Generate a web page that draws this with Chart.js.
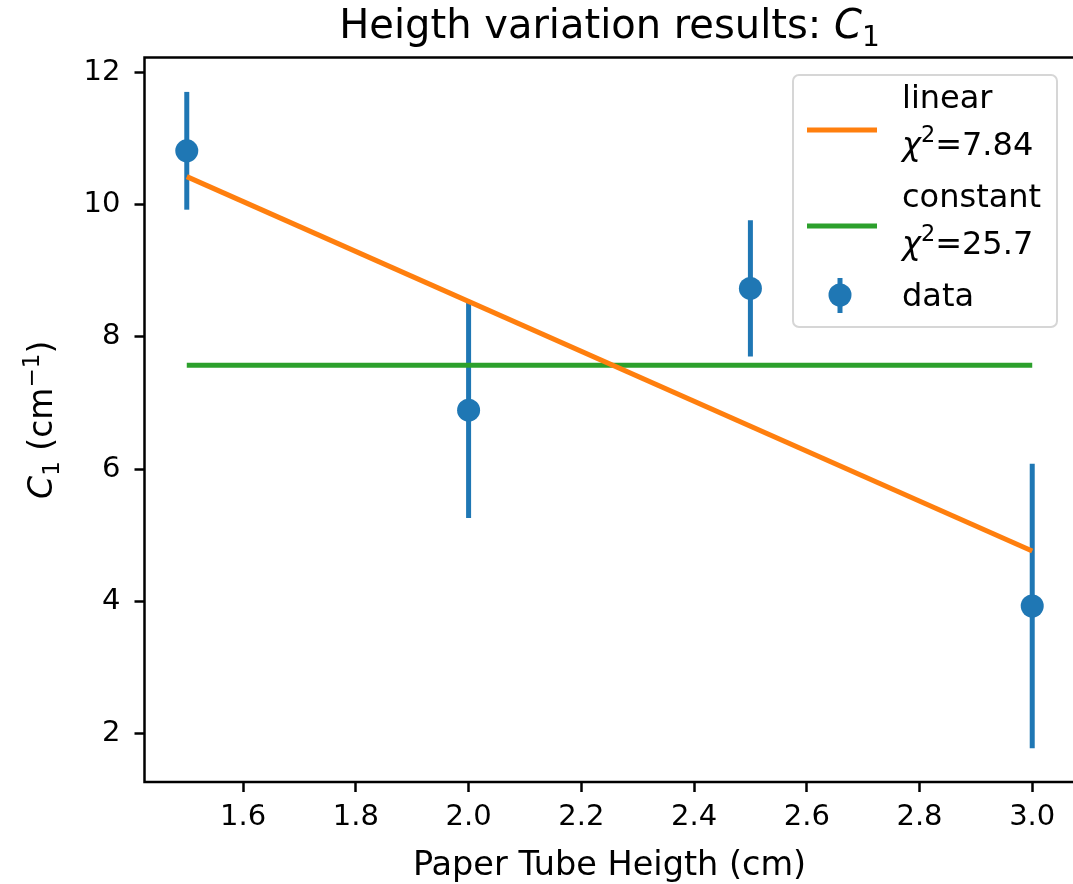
<!DOCTYPE html>
<html>
<head>
<meta charset="utf-8">
<script src="https://cdn.jsdelivr.net/npm/chart.js@4"></script>
<style>
body { margin: 0; background: #fff; overflow: hidden; width: 1073px; height: 884px; }
canvas { display: block; }
</style>
</head>
<body>
<canvas id="grafico" width="1086" height="884"></canvas>
<script>
// values
const heights = [1.5, 2.0, 2.5, 3.0];
const c1Values = [10.81, 6.89, 8.73, 3.93];
const c1Errors = [0.89, 1.63, 1.03, 2.15];
const fitHeights = [1.5, 3.0];
const linearFit = [10.42, 4.76];
const constantFit = [7.57, 7.57];
const chiLinear = '7.84';
const chiConstant = '25.7';
const xTicks = [1.6, 1.8, 2.0, 2.2, 2.4, 2.6, 2.8, 3.0];
const yTicks = [2, 4, 6, 8, 10, 12];

const FAMILY = "'DejaVu Sans', sans-serif";

// draws text made of pieces: [text, kind] with kind '', 'i', 'sub', 'sup'
function drawRich(ctx, parts, x, y, size, align) {
    function font(p) {
        let s = (p[1] == 'sub' || p[1] == 'sup') ? size * 0.7 : size;
        return (p[1] == 'i' ? 'italic ' : '') + s + 'px ' + FAMILY;
    }
    let total = 0;
    parts.forEach(p => { ctx.font = font(p); total += ctx.measureText(p[0]).width; });
    let cx = align == 'center' ? x - total / 2 : x;
    ctx.textAlign = 'left';
    ctx.textBaseline = 'alphabetic';
    parts.forEach(p => {
        ctx.font = font(p);
        let dy = p[1] == 'sub' ? size * 0.2 : (p[1] == 'sup' ? -size * 0.4 : 0);
        ctx.fillText(p[0], cx, y + dy);
        cx += ctx.measureText(p[0]).width;
    });
}

const errorBars = {
    id: 'errorBars',
    beforeDatasetsDraw(chart) {
        const ctx = chart.ctx, sx = chart.scales.x, sy = chart.scales.y;
        ctx.save();
        ctx.strokeStyle = '#1f77b4';
        ctx.lineWidth = 5;
        heights.forEach((h, i) => {
            const px = sx.getPixelForValue(h);
            ctx.beginPath();
            ctx.moveTo(px, sy.getPixelForValue(c1Values[i] - c1Errors[i]));
            ctx.lineTo(px, sy.getPixelForValue(c1Values[i] + c1Errors[i]));
            ctx.stroke();
        });
        ctx.restore();
    }
};

const frameAndText = {
    id: 'frameAndText',
    afterDatasetsDraw(chart) {
        const ctx = chart.ctx, a = chart.chartArea;
        ctx.save();
        ctx.strokeStyle = '#000';
        ctx.lineWidth = 2.5;
        ctx.strokeRect(a.left, a.top, a.right - a.left, a.bottom - a.top);
        ctx.restore();
    },
    afterDraw(chart) {
        const ctx = chart.ctx, a = chart.chartArea;
        const mid = (a.left + a.right) / 2;
        ctx.save();
        ctx.fillStyle = '#000';
        drawRich(ctx, [['Heigth variation results: ', ''], ['C', 'i'], ['1', 'sub']], mid, 38, 40, 'center');
        drawRich(ctx, [['Paper Tube Heigth (cm)', '']], mid, 875, 33.5, 'center');

        ctx.save();
        ctx.translate(52, (a.top + a.bottom) / 2);
        ctx.rotate(-Math.PI / 2);
        drawRich(ctx, [['C', 'i'], ['1', 'sub'], [' (cm', ''], ['\u22121', 'sup'], [')', '']], 0, 0, 33, 'center');
        ctx.restore();

        // legend
        const bx = 793, by = 75, bw = 264, bh = 252;
        ctx.beginPath();
        ctx.roundRect(bx, by, bw, bh, 6);
        ctx.fillStyle = 'rgba(255,255,255,0.8)';
        ctx.fill();
        ctx.strokeStyle = '#d6d6d6';
        ctx.lineWidth = 2;
        ctx.stroke();

        ctx.lineWidth = 5;
        ctx.strokeStyle = '#ff7f0e';
        ctx.beginPath(); ctx.moveTo(807, 130); ctx.lineTo(877, 130); ctx.stroke();
        ctx.strokeStyle = '#2ca02c';
        ctx.beginPath(); ctx.moveTo(807, 226); ctx.lineTo(877, 226); ctx.stroke();
        ctx.strokeStyle = '#1f77b4';
        ctx.beginPath(); ctx.moveTo(840, 278); ctx.lineTo(840, 313); ctx.stroke();
        ctx.fillStyle = '#1f77b4';
        ctx.beginPath(); ctx.arc(840, 295, 11.5, 0, Math.PI * 2); ctx.fill();

        ctx.fillStyle = '#000';
        const tx = 902;
        drawRich(ctx, [['linear', '']], tx, 108, 32);
        drawRich(ctx, [['\u03c7', 'i'], ['2', 'sup'], ['=' + chiLinear, '']], tx, 155, 32);
        drawRich(ctx, [['constant', '']], tx, 207, 32);
        drawRich(ctx, [['\u03c7', 'i'], ['2', 'sup'], ['=' + chiConstant, '']], tx, 254, 32);
        drawRich(ctx, [['data', '']], tx, 306, 32);
        ctx.restore();
    }
};

const ctx = document.getElementById('grafico');

new Chart(ctx, {
    type: 'line',
    data: {
        datasets: [
            {
                label: 'linear',
                data: fitHeights.map((h, i) => ({ x: h, y: linearFit[i] })),
                borderColor: '#ff7f0e',
                borderWidth: 5,
                pointRadius: 0,
                order: 0
            },
            {
                label: 'constant',
                data: fitHeights.map((h, i) => ({ x: h, y: constantFit[i] })),
                borderColor: '#2ca02c',
                borderWidth: 5,
                pointRadius: 0,
                order: 1
            },
            {
                label: 'data',
                data: heights.map((h, i) => ({ x: h, y: c1Values[i] })),
                showLine: false,
                backgroundColor: '#1f77b4',
                borderColor: '#1f77b4',
                borderWidth: 0,
                pointRadius: 11.5,
                order: 2
            }
        ]
    },
    options: {
        responsive: false,
        animation: false,
        layout: {
            padding: { left: 44.5, top: 57.5, right: 0, bottom: 0 }
        },
        plugins: {
            legend: { display: false },
            tooltip: { enabled: false }
        },
        scales: {
            x: {
                type: 'linear',
                min: 1.425,
                max: 3.075,
                afterBuildTicks: s => { s.ticks = xTicks.map(v => ({ value: v })); },
                afterFit: s => { s.height = 102; },
                border: { display: false },
                grid: { drawOnChartArea: false, drawTicks: true, tickLength: 10, tickWidth: 2.5, tickColor: '#000' },
                ticks: {
                    color: '#000',
                    padding: 8,
                    maxRotation: 0,
                    autoSkip: false,
                    font: { family: FAMILY, size: 29 },
                    callback: v => v.toFixed(1)
                }
            },
            y: {
                type: 'linear',
                min: 1.27,
                max: 12.22,
                afterBuildTicks: s => { s.ticks = yTicks.map(v => ({ value: v })); },
                afterFit: s => { s.width = 100; },
                border: { display: false },
                grid: { drawOnChartArea: false, drawTicks: true, tickLength: 10, tickWidth: 2.5, tickColor: '#000' },
                ticks: {
                    color: '#000',
                    padding: 14,
                    autoSkip: false,
                    font: { family: FAMILY, size: 29 },
                    callback: v => String(v)
                }
            }
        }
    },
    plugins: [errorBars, frameAndText]
});
</script>
</body>
</html>
